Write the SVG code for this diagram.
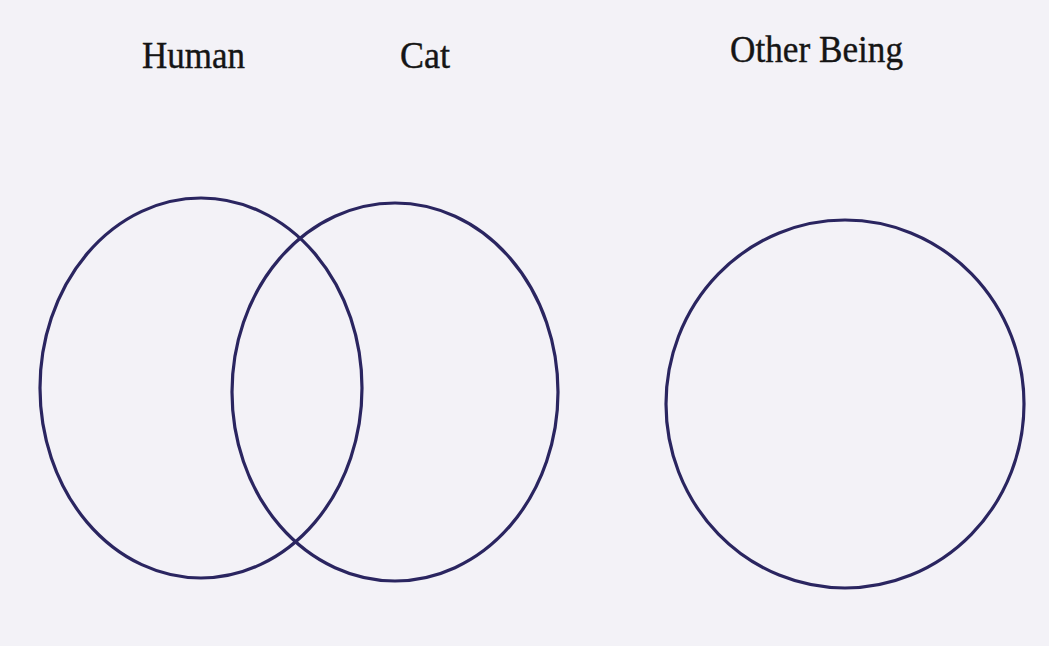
<svg xmlns="http://www.w3.org/2000/svg" width="1049" height="646" viewBox="0 0 1049 646">
<style>
.c{fill:none;stroke:#2a2560;stroke-width:3.2}
.t{font-family:"Liberation Serif","Times New Roman",serif;font-size:37px;fill:#151515;stroke:#151515;stroke-width:0.4}
</style>
<rect width="1049" height="646" fill="#f3f2f7"/>
<g id="label-human"><text class="t" x="142" y="68" textLength="103" lengthAdjust="spacingAndGlyphs">Human</text></g>
<g id="label-cat"><text class="t" x="400" y="68" textLength="50" lengthAdjust="spacingAndGlyphs">Cat</text></g>
<g id="label-other"><text class="t" x="730" y="62" textLength="173" lengthAdjust="spacingAndGlyphs">Other Being</text></g>
<g id="human"><ellipse class="c" cx="201" cy="388" rx="161" ry="190"/></g>
<g id="cat"><ellipse class="c" cx="395" cy="392" rx="163" ry="189"/></g>
<g id="other-being"><ellipse class="c" cx="845" cy="404" rx="179" ry="184"/></g>
<g id="connectors"/>
</svg>
